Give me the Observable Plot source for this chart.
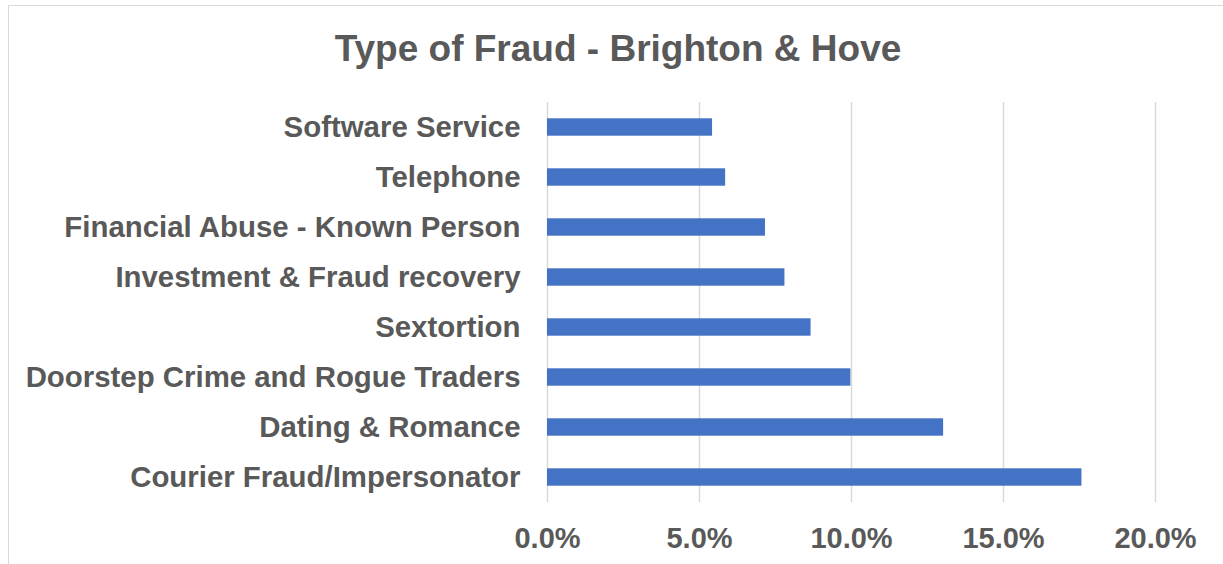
<!DOCTYPE html>
<html>
<head>
<meta charset="utf-8">
<script src="https://cdn.jsdelivr.net/npm/d3@7"></script>
<script src="https://cdn.jsdelivr.net/npm/@observablehq/plot@0.6"></script>
<style>
  html, body { margin: 0; padding: 0; background: #fff; }
  #wrap { position: relative; width: 1223px; height: 564px; overflow: hidden; font-family: "Liberation Sans", Arial, sans-serif; }
  #frame { position: absolute; left: 8px; top: 5px; width: 1300px; height: 700px; border: 1.5px solid #d9d9d9; box-sizing: border-box; }
  #title { position: absolute; left: 0; width: 1236px; top: 27px; text-align: center; font-size: 37px; font-weight: bold; color: #595959; line-height: 44px; }
  #chart { position: absolute; left: 0; top: 0; }
</style>
</head>
<body>
<div id="wrap">
  <div id="frame"></div>
  <div id="title">Type of Fraud - Brighton &amp; Hove</div>
  <div id="chart"></div>
</div>
<script>
const categories = [
  "Software Service",
  "Telephone",
  "Financial Abuse - Known Person",
  "Investment & Fraud recovery",
  "Sextortion",
  "Doorstep Crime and Rogue Traders",
  "Dating & Romance",
  "Courier Fraud/Impersonator"
];
const shares = [0.0543, 0.0586, 0.0717, 0.0781, 0.0867, 0.0998, 0.1303, 0.1758];
const xTicks = [0, 0.05, 0.10, 0.15, 0.20];

const data = categories.map((c, i) => ({category: c, share: shares[i]}));

const chart = Plot.plot({
  width: 1223,
  height: 564,
  marginLeft: 547,
  marginRight: 68,
  marginTop: 102,
  marginBottom: 62,
  style: {fontFamily: "'Liberation Sans', Arial, sans-serif", fontWeight: "bold", color: "#595959", background: "transparent"},
  x: {domain: [0, 0.2], ticks: xTicks, tickFormat: d3.format(".1%")},
  y: {domain: categories, padding: 0},
  marks: [
    Plot.gridX(xTicks, {stroke: "#d9d9d9", strokeOpacity: 1, strokeWidth: 1.5}),
    Plot.barX(data, {x: "share", y: "category", fill: "#4472C4", insetTop: 16.3, insetBottom: 16.3}),
    Plot.axisX(xTicks, {tickSize: 0, tickPadding: 25, fontSize: 29, fontWeight: "bold", fill: "#595959", tickFormat: d3.format(".1%"), label: null}),
    Plot.axisY({tickSize: 0, tickPadding: 27, fontSize: 29.4, fontWeight: "bold", fill: "#595959", label: null})
  ]
});
document.getElementById("chart").appendChild(chart);
</script>
</body>
</html>
